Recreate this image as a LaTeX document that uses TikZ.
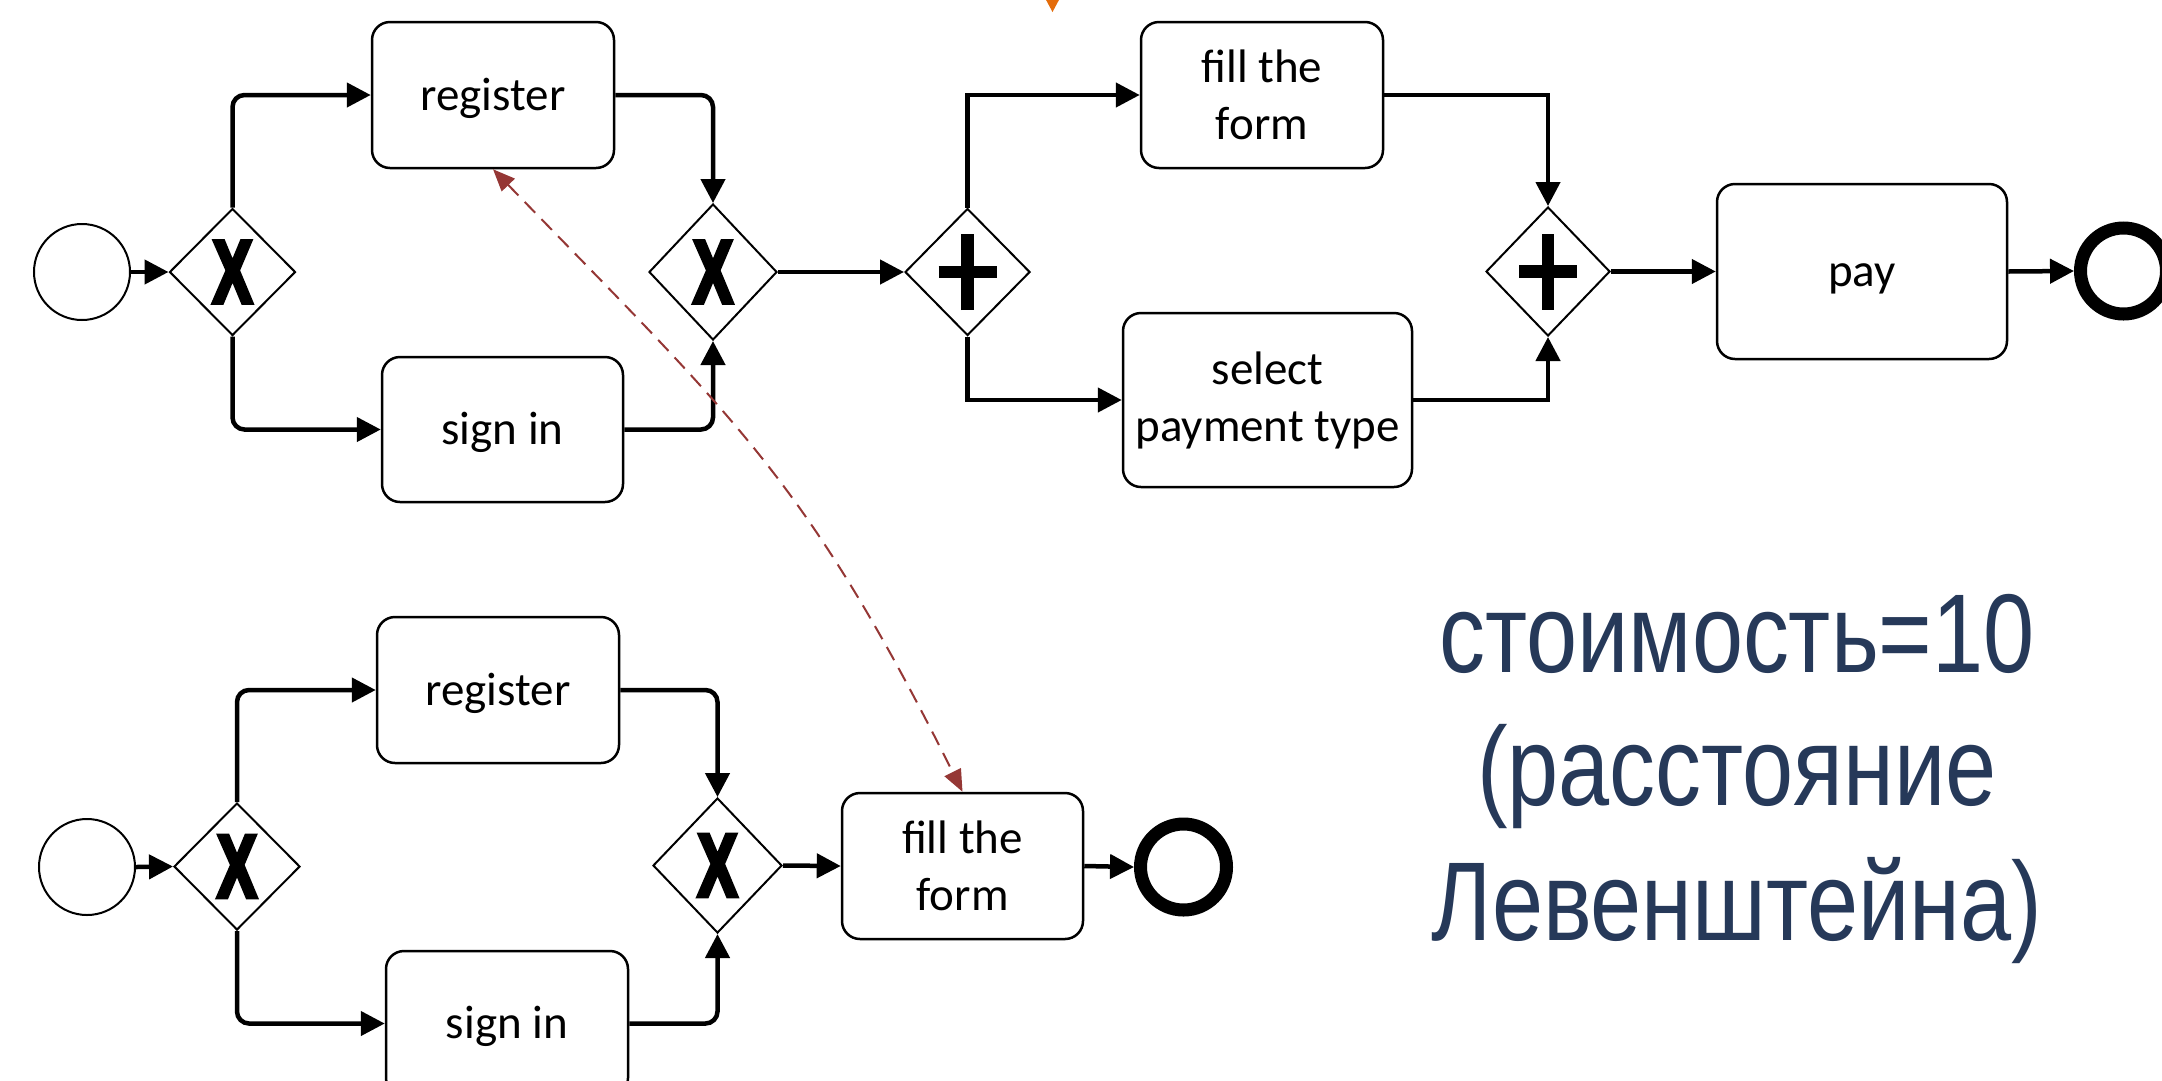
\documentclass[tikz,border=0pt]{standalone}
\usepackage{fontspec}
\setmainfont{Carlito}
\newfontfamily\costfont[FakeStretch=0.82]{Liberation Sans}
\newfontfamily\gatefont[FakeStretch=0.66,FakeBold=4]{Liberation Sans Bold}
\usetikzlibrary{shapes.geometric,arrows.meta}
\definecolor{costblue}{RGB}{38,57,89}
\definecolor{linkred}{RGB}{149,55,53}
\definecolor{markorange}{RGB}{228,108,10}
\begin{document}
\begin{tikzpicture}[x=1pt,y=-1pt,
  task/.style={draw, line width=2.5pt, rounded corners=18pt, fill=white,
    align=center, inner sep=0pt, font=\fontsize{47pt}{57pt}\selectfont},
  oneline/.style={text height=38pt, text depth=8pt},
  twoline/.style={yshift=-2pt},
  gate/.style={diamond, draw, line width=2pt, fill=white, inner sep=0pt,
    font=\gatefont\fontsize{90pt}{90pt}\selectfont},
  startev/.style={circle, draw, line width=2pt, minimum size=96pt, inner sep=0pt},
  endev/.style={circle, draw, line width=13pt, minimum size=86pt, inner sep=0pt},
  flow/.style={line width=4.5pt, -{Triangle[length=24pt,width=24pt]}},
  curved/.style={rounded corners=12pt},
  plusbar/.style={line width=12.5pt},
  link/.style={linkred, line width=2pt, dash pattern=on 15pt off 9pt,
    {Triangle[length=22pt,width=18pt]}-{Triangle[length=22pt,width=18pt]}},
  costtext/.style={costblue, anchor=base, inner sep=0pt,
    font=\costfont\fontsize{112pt}{134pt}\selectfont}
]
\useasboundingbox (0,0) rectangle (2162,1080);
\clip (0,0) rectangle (2162,1080);
\fill[white] (0,0) rectangle (2162,1080);

% small orange marker at the top edge
\fill[markorange] (1045,-2) -- (1060,-2) -- (1052.5,12) -- cycle;

% ---------- upper process ----------
\node[startev] (s1) at (82,272) {};
\node[gate, minimum width=126pt, minimum height=127pt] (g1) at (232.5,272) {X};
\node[task, oneline, minimum width=242pt, minimum height=146pt] (r1) at (493,95) {register};
\node[task, oneline, minimum width=241pt, minimum height=145pt] (si1) at (502.5,429.5) {sign in};
\node[gate, minimum width=128pt, minimum height=136pt] (g2) at (713,272) {X};
\node[gate, minimum width=125pt, minimum height=127pt] (g3) at (967.5,272) {};
\node[task, minimum width=242pt, minimum height=146pt] (f1) at (1262,95) {fill the\\form};
\node[task, minimum width=289pt, minimum height=174pt] (sel) at (1267.5,400) {select\\payment type};
\node[gate, minimum width=124pt, minimum height=129pt] (g4) at (1548,271.5) {};
\node[task, oneline, minimum width=290pt, minimum height=175pt] (pay) at (1862,271.5) {pay};
\node[endev] (e1) at (2123.5,271) {};

% parallel gateway markers
\draw[plusbar] ([yshift=-38pt]g3.center) -- ([yshift=38pt]g3.center);
\draw[plusbar] ([xshift=-29pt]g3.center) -- ([xshift=29pt]g3.center);
\draw[plusbar] ([yshift=-38pt]g4.center) -- ([yshift=38pt]g4.center);
\draw[plusbar] ([xshift=-29pt]g4.center) -- ([xshift=29pt]g4.center);

\draw[flow] (s1.east) -- (g1.west);
\draw[flow, curved] (g1.north) |- (r1.west);
\draw[flow, curved] (g1.south) |- (si1.west);
\draw[flow, curved] (r1.east) -| (g2.north);
\draw[flow, curved] (si1.east) -| (g2.south);
\draw[flow] (g2.east) -- (g3.west);
\draw[flow] (g3.north) |- (f1.west);
\draw[flow] (g3.south) |- (sel.west);
\draw[flow] (f1.east) -| (g4.north);
\draw[flow] (sel.east) -| (g4.south);
\draw[flow] (g4.east) -- (pay.west);
\draw[flow] (pay.east) -- (e1.west);

% ---------- lower process ----------
\node[startev] (s2) at (87,867) {};
\node[gate, minimum width=126pt, minimum height=127pt] (g5) at (237,866.5) {X};
\node[task, oneline, minimum width=242pt, minimum height=146pt] (r2) at (498,690) {register};
\node[task, oneline, minimum width=242pt, minimum height=145pt] (si2) at (507,1023.5) {sign in};
\node[gate, minimum width=129pt, minimum height=135pt] (g6) at (717.5,865.5) {X};
\node[task, minimum width=241pt, minimum height=146pt] (f2) at (962.5,866) {fill the\\form};
\node[endev] (e2) at (1183.5,867) {};

\draw[flow] (s2.east) -- (g5.west);
\draw[flow, curved] (g5.north) |- (r2.west);
\draw[flow, curved] (g5.south) |- (si2.west);
\draw[flow, curved] (r2.east) -| (g6.north);
\draw[flow, curved] (si2.east) -| (g6.south);
\draw[flow] (g6.east) -- (f2.west);
\draw[flow] (f2.east) -- (e2.west);

% correspondence between the two models
\draw[link] (r1.south) .. controls (737,421) and (806,479) .. (f2.north);

% cost annotation
\node[costtext] (c1) at (1737,672) {стоимость=10};
\node[costtext] (c2) at (1737,805) {(расстояние};
\node[costtext] (c3) at (1737,940) {Левенштейна)};
\end{tikzpicture}
\end{document}
